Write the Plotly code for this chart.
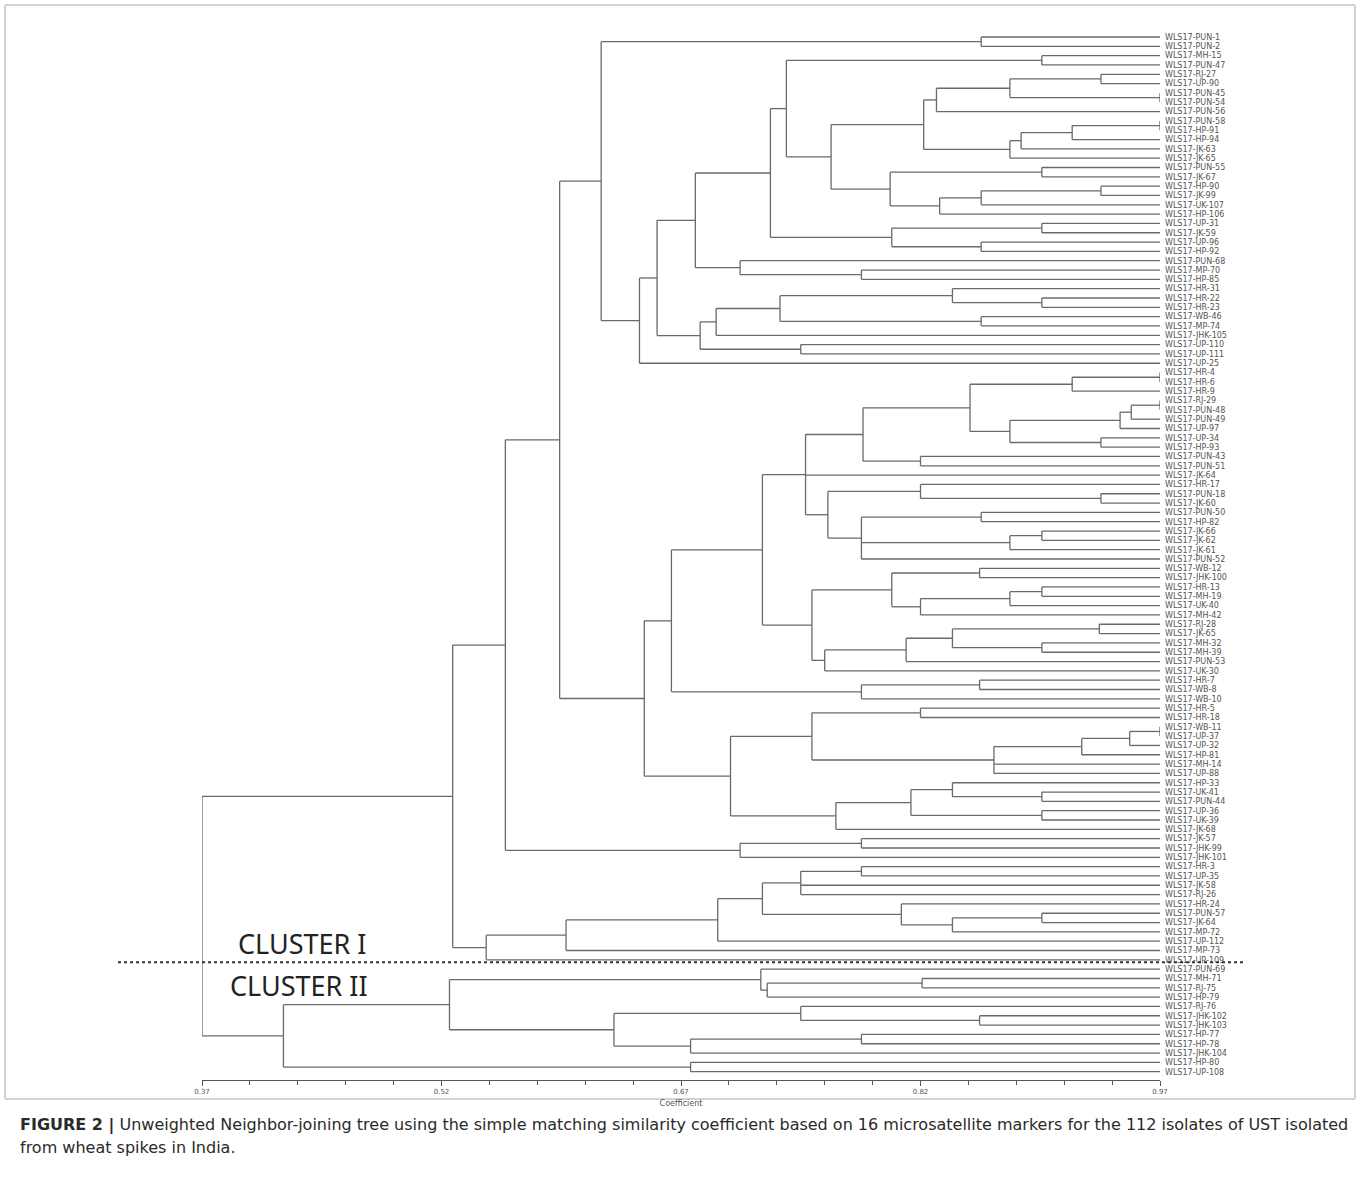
import plotly.graph_objects as go

# ---------------- data ----------------
LEAVES = [
    "WLS17-PUN-1", "WLS17-PUN-2", "WLS17-MH-15", "WLS17-PUN-47", "WLS17-RJ-27", "WLS17-UP-90", "WLS17-PUN-45", "WLS17-PUN-54", "WLS17-PUN-56", "WLS17-PUN-58",
    "WLS17-HP-91", "WLS17-HP-94", "WLS17-JK-63", "WLS17-JK-65", "WLS17-PUN-55", "WLS17-JK-67", "WLS17-HP-90", "WLS17-JK-99", "WLS17-UK-107", "WLS17-HP-106",
    "WLS17-UP-31", "WLS17-JK-59", "WLS17-UP-96", "WLS17-HP-92", "WLS17-PUN-68", "WLS17-MP-70", "WLS17-HP-85", "WLS17-HR-31", "WLS17-HR-22", "WLS17-HR-23",
    "WLS17-WB-46", "WLS17-MP-74", "WLS17-JHK-105", "WLS17-UP-110", "WLS17-UP-111", "WLS17-UP-25", "WLS17-HR-4", "WLS17-HR-6", "WLS17-HR-9", "WLS17-RJ-29",
    "WLS17-PUN-48", "WLS17-PUN-49", "WLS17-UP-97", "WLS17-UP-34", "WLS17-HP-93", "WLS17-PUN-43", "WLS17-PUN-51", "WLS17-JK-64", "WLS17-HR-17", "WLS17-PUN-18",
    "WLS17-JK-60", "WLS17-PUN-50", "WLS17-HP-82", "WLS17-JK-66", "WLS17-JK-62", "WLS17-JK-61", "WLS17-PUN-52", "WLS17-WB-12", "WLS17-JHK-100", "WLS17-HR-13",
    "WLS17-MH-19", "WLS17-UK-40", "WLS17-MH-42", "WLS17-RJ-28", "WLS17-JK-65", "WLS17-MH-32", "WLS17-MH-39", "WLS17-PUN-53", "WLS17-UK-30", "WLS17-HR-7",
    "WLS17-WB-8", "WLS17-WB-10", "WLS17-HR-5", "WLS17-HR-18", "WLS17-WB-11", "WLS17-UP-37", "WLS17-UP-32", "WLS17-HP-81", "WLS17-MH-14", "WLS17-UP-88",
    "WLS17-HP-33", "WLS17-UK-41", "WLS17-PUN-44", "WLS17-UP-36", "WLS17-UK-39", "WLS17-JK-68", "WLS17-JK-57", "WLS17-JHK-99", "WLS17-JHK-101", "WLS17-HR-3",
    "WLS17-UP-35", "WLS17-JK-58", "WLS17-RJ-26", "WLS17-HR-24", "WLS17-PUN-57", "WLS17-JK-64", "WLS17-MP-72", "WLS17-UP-112", "WLS17-MP-73", "WLS17-UP-109",
    "WLS17-PUN-69", "WLS17-MH-71", "WLS17-RJ-75", "WLS17-HP-79", "WLS17-RJ-76", "WLS17-JHK-102", "WLS17-JHK-103", "WLS17-HP-77", "WLS17-HP-78", "WLS17-JHK-104",
    "WLS17-HP-80", "WLS17-UP-108",
]

LEAF_COEF = 0.97          # similarity at which every leaf sits
ROOT_COEF = 0.37

X_TICK_VALUES = [0.37, 0.52, 0.67, 0.82, 0.97]
X_TICK_TEXT = ["0.37", "0.52", "0.67", "0.82", "0.97"]
MINOR_STEP = 0.03

# merge tree: (coefficient, child, child, ...); integers are leaf numbers (1-based)
GROUP_A = (0.620,
           (0.858, 1, 2),
           (0.644,
            (0.655,
             (0.679,
              (0.726,
               (0.736,
                (0.896, 3, 4),
                (0.764,
                 (0.822,
                  (0.830, (0.876, (0.933, 5, 6), (0.970, 7, 8)), 9),
                  (0.876, (0.883, (0.915, (0.970, 10, 11), 12), 13), 14)),
                 (0.801,
                  (0.896, 15, 16),
                  (0.832, (0.858, (0.933, 17, 18), 19), 20)))),
               (0.802, (0.896, 21, 22), (0.858, 23, 24))),
              (0.707, 25, (0.783, 26, 27))),
             (0.682,
              (0.692,
               (0.732, (0.840, 28, (0.896, 29, 30)), (0.858, 31, 32)),
               33),
              (0.745, 34, 35))),
            36))

GROUP_B = (0.647,
           (0.664,
            (0.721,
             (0.748,
              (0.784,
               (0.851,
                (0.915, (0.970, 37, 38), 39),
                (0.876,
                 (0.945, (0.952, (0.970, 40, 41), 42), 43),
                 (0.933, 44, 45))),
               (0.820, 46, 47)),
              48,
              (0.762,
               (0.820, 49, (0.933, 50, 51)),
               (0.783, (0.858, 52, 53), (0.876, (0.896, 54, 55), 56), 57))),
             (0.752,
              (0.802, (0.857, 58, 59), (0.820, (0.876, (0.896, 60, 61), 62), 63)),
              (0.760, (0.811, (0.840, (0.932, 64, 65), (0.896, 66, 67)), 68), 69))),
            (0.783, (0.857, 70, 71), 72)),
           (0.701,
            (0.752, (0.820, 73, 74),
             (0.866, (0.921, (0.951, (0.970, 75, 76), 77), 78), 79, 80)),
            (0.767, (0.814, (0.840, 81, (0.896, 82, 83)), (0.896, 84, 85)), 86)))

GROUP_C = (0.707, (0.783, 87, 88), 89)

GROUP_D = (0.548,
           (0.598,
            (0.693,
             (0.721,
              (0.745, (0.783, 90, 91), 92, 93),
              (0.808, 94, (0.840, (0.896, 95, 96), 97))),
             98),
            99),
           100)

CLUSTER_I = (0.527, (0.560, (0.594, GROUP_A, GROUP_B), GROUP_C), GROUP_D)

CLUSTER_II = (0.421,
              (0.525,
               (0.720, 101, (0.724, (0.821, 102, 103), 104)),
               (0.628,
                (0.745, 105, (0.857, 106, 107)),
                (0.676, (0.783, 108, 109), 110))),
              (0.676, 111, 112))

TREE = (ROOT_COEF, CLUSTER_I, CLUSTER_II)
CLUSTER_SPLIT = 100.25   # dashed separator, in leaf-row units

# ---------------- build segments ----------------
seg_x, seg_y = [], []


def place(node):
    if isinstance(node, int):
        return LEAF_COEF, float(node)
    h = node[0]
    kids = [place(c) for c in node[1:]]
    for kx, ky in kids:
        seg_x.extend([h, kx, None])
        seg_y.extend([ky, ky, None])
    ys = [k[1] for k in kids]
    seg_x.extend([h, h, None])
    seg_y.extend([min(ys), max(ys), None])
    return h, (ys[0] + ys[-1]) / 2.0


place(TREE)

# ---------------- figure ----------------
W, H = 1360, 1197
ML, MR, MT, MB = 202, 200, 30, 117
PW, PH = W - ML - MR, H - MT - MB
ROW = 9.3216
Y_TOP = 1 - (37 - MT) / ROW
Y_BOT = Y_TOP + PH / ROW


def px_x(p):
    return (p - ML) / PW


def px_y(p):
    return (H - MB - p) / PH


fig = go.Figure()
fig.add_trace(go.Scatter(
    x=seg_x, y=seg_y, mode="lines",
    line=dict(color="#6a6a6a", width=1.3),
    hoverinfo="skip", showlegend=False, cliponaxis=False,
))

fig.update_layout(
    width=W, height=H, autosize=False,
    margin=dict(l=ML, r=MR, t=MT, b=MB),
    paper_bgcolor="white", plot_bgcolor="white",
    showlegend=False,
    xaxis=dict(
        range=[ROOT_COEF, LEAF_COEF],
        showgrid=False, zeroline=False,
        showline=True, linecolor="#555", linewidth=1,
        ticks="outside", ticklen=5, tickcolor="#555", tickwidth=1,
        tickvals=X_TICK_VALUES, ticktext=X_TICK_TEXT,
        tickfont=dict(family="DejaVu Sans", size=7, color="#555"),
        minor=dict(ticks="outside", ticklen=4, tickcolor="#555",
                   tick0=ROOT_COEF, dtick=MINOR_STEP),
        title=dict(text="Coefficient", font=dict(family="DejaVu Sans", size=8, color="#555"),
                   standoff=4),
    ),
    yaxis=dict(
        range=[Y_BOT, Y_TOP],
        showgrid=False, zeroline=False, showline=False,
        side="right", ticks="",
        tickmode="array",
        tickvals=list(range(1, len(LEAVES) + 1)), ticktext=LEAVES,
        tickfont=dict(family="DejaVu Sans", size=8, color="#555"),
        ticklabelstandoff=4,
    ),
    shapes=[
        dict(type="rect", xref="paper", yref="paper",
             x0=px_x(5), x1=px_x(1355), y0=px_y(1099), y1=px_y(5),
             line=dict(color="#a8a8a8", width=1), layer="below"),
        dict(type="line", xref="paper", yref="y",
             x0=px_x(118), x1=px_x(1245), y0=CLUSTER_SPLIT, y1=CLUSTER_SPLIT,
             line=dict(color="#333", width=2, dash="dot")),
    ],
    annotations=[
        dict(text="CLUSTER I", xref="paper", yref="y", x=px_x(236), y=98.2,
             xanchor="left", yanchor="middle", showarrow=False,
             font=dict(family="Noto Sans", size=27, color="#222")),
        dict(text="CLUSTER II", xref="paper", yref="y", x=px_x(228), y=102.7,
             xanchor="left", yanchor="middle", showarrow=False,
             font=dict(family="Noto Sans", size=27, color="#222")),
        dict(text="<b>FIGURE 2 |</b> Unweighted Neighbor-joining tree using the simple matching similarity "
                  "coefficient based on 16 microsatellite markers for the 112 isolates of UST isolated",
             xref="paper", yref="paper", x=px_x(18), y=px_y(1125),
             xanchor="left", yanchor="middle", showarrow=False, align="left",
             font=dict(family="DejaVu Sans", size=16, color="#2a2a2a")),
        dict(text="from wheat spikes in India.",
             xref="paper", yref="paper", x=px_x(18), y=px_y(1147),
             xanchor="left", yanchor="middle", showarrow=False, align="left",
             font=dict(family="DejaVu Sans", size=16, color="#2a2a2a")),
    ],
)

fig.write_html(
    "out.html",
    config={"displayModeBar": False},
    post_script="document.body.style.margin='0';document.body.style.overflow='hidden';",
)
